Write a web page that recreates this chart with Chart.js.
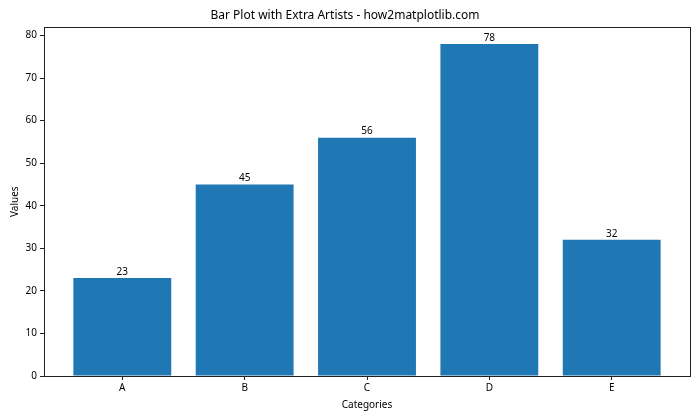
<!DOCTYPE html>
<html>
<head>
<meta charset="utf-8">
<script src="https://cdn.jsdelivr.net/npm/chart.js@4"></script>
<style>
  html, body { margin: 0; padding: 0; background: #fff; }
  #wrap { width: 700px; height: 420px; }
</style>
</head>
<body>
<div id="wrap"><canvas id="grafico"></canvas></div>
<script>
const categorias = ['A', 'B', 'C', 'D', 'E'];
const valores = [23, 45, 56, 78, 32];
const ticksY = [0, 10, 20, 30, 40, 50, 60, 70, 80];

const fonte = '"Noto Sans", "Open Sans", "DejaVu Sans", sans-serif';
const corBarra = '#1f77b4';

// moldura completa e rótulos em cima das barras
const extras = {
    id: 'extras',
    afterDatasetsDraw(chart) {
        const ctx = chart.ctx;
        const area = chart.chartArea;
        ctx.save();
        ctx.strokeStyle = '#222';
        ctx.lineWidth = 1;
        ctx.strokeRect(Math.round(area.left) + 0.5, Math.round(area.top) + 0.5,
            Math.round(area.right - area.left), Math.round(area.bottom - area.top));
        ctx.fillStyle = '#000';
        ctx.font = '10px ' + fonte;
        ctx.textAlign = 'center';
        ctx.textBaseline = 'bottom';
        chart.getDatasetMeta(0).data.forEach((barra, i) => {
            ctx.fillText(String(valores[i]), barra.x, barra.y - 1);
        });
        ctx.restore();
    }
};

new Chart(document.getElementById('grafico'), {
    type: 'bar',
    data: {
        datasets: [{
            data: valores.map((v, i) => ({ x: i, y: v })),
            backgroundColor: corBarra,
            borderWidth: 0,
            inflateAmount: 0,
            barPercentage: 0.8,
            categoryPercentage: 1
        }]
    },
    options: {
        responsive: true,
        maintainAspectRatio: false,
        animation: false,
        layout: { padding: { left: 0, right: 10, top: 0, bottom: 0 } },
        plugins: {
            legend: { display: false },
            tooltip: { enabled: false },
            title: {
                display: true,
                text: 'Bar Plot with Extra Artists - how2matplotlib.com',
                color: '#000',
                font: { family: fonte, size: 12, weight: 'normal' },
                padding: { top: 8, bottom: 5 }
            }
        },
        scales: {
            x: {
                type: 'linear',
                min: -0.64,
                max: 4.64,
                offset: false,
                afterBuildTicks: s => { s.ticks = categorias.map((c, i) => ({ value: i })); },
                afterFit: s => { s.height = 44; },
                ticks: {
                    autoSkip: false,
                    maxRotation: 0,
                    padding: 2,
                    color: '#000',
                    font: { family: fonte, size: 10 },
                    callback: v => categorias[v]
                },
                grid: { display: true, drawOnChartArea: false, drawTicks: true, tickLength: 4, color: '#222', offset: false },
                border: { display: true, color: '#222' },
                title: {
                    display: true,
                    text: 'Categories',
                    color: '#000',
                    font: { family: fonte, size: 10 },
                    padding: { top: 0, bottom: 9 }
                }
            },
            y: {
                min: 0,
                max: 81.9,
                afterBuildTicks: s => { s.ticks = ticksY.map(v => ({ value: v })); },
                afterFit: s => { s.width = 44; },
                ticks: {
                    padding: 3,
                    color: '#000',
                    font: { family: fonte, size: 10 }
                },
                grid: { display: true, drawOnChartArea: false, drawTicks: true, tickLength: 4, color: '#222' },
                border: { display: true, color: '#222' },
                title: {
                    display: true,
                    text: 'Values',
                    color: '#000',
                    font: { family: fonte, size: 10 },
                    padding: { top: 9, bottom: 0 }
                }
            }
        }
    },
    plugins: [extras]
});
</script>
</body>
</html>
